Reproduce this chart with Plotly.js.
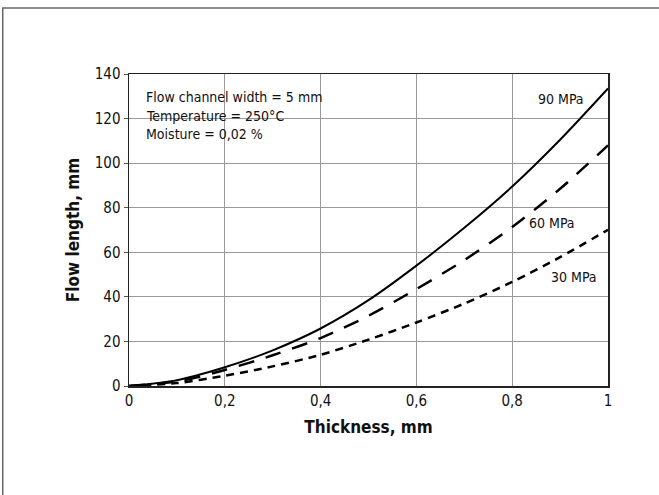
<!DOCTYPE html>
<html>
<head>
<meta charset="utf-8">
<script src="https://cdn.plot.ly/plotly-3.0.1.min.js"></script>
<style>html,body{margin:0;padding:0;background:#fff;}#chart{width:659px;height:495px;}</style>
</head>
<body>
<div id="chart"></div>
<script>
const thickness = [0, 0.1, 0.2, 0.3, 0.4, 0.5, 0.6, 0.7, 0.8, 0.9, 1.0];
const flow90 = [0, 2.6, 8.4, 16, 25.8, 38.5, 54, 71, 89.5, 110.5, 133.5];
const flow60 = [0, 2.0, 7.2, 13.8, 21.5, 31.5, 43.5, 56.5, 71.3, 88.5, 108];
const flow30 = [0, 1.3, 4.6, 8.8, 14, 20.8, 28.5, 37, 46.7, 57.8, 70.1];
const seriesNames = ["90 MPa", "60 MPa", "30 MPa"];
const infoLines = ["Flow channel width = 5 mm", "Temperature = 250°C", "Moisture = 0,02 %"];
const xTicks = [0, 0.2, 0.4, 0.6, 0.8, 1];
const yTicks = [0, 20, 40, 60, 80, 100, 120, 140];

const FONT = "'Liberation Sans Narrow', 'Arial Narrow', 'DejaVu Sans Condensed', sans-serif";

const traces = [
  {x: thickness, y: flow90, name: seriesNames[0], mode: "lines", line: {color: "#000", width: 2, shape: "spline", smoothing: 0.8}},
  {x: thickness, y: flow60, name: seriesNames[1], mode: "lines", line: {color: "#000", width: 2.5, dash: "16px,12px", shape: "spline", smoothing: 0.8}},
  {x: thickness, y: flow30, name: seriesNames[2], mode: "lines", line: {color: "#000", width: 2.5, dash: "8px,6px", shape: "spline", smoothing: 0.8}}
];

const annotations = [
  {x: 0.955, y: 129, xanchor: "right", yanchor: "middle", text: seriesNames[0]},
  {x: 0.883, y: 73, xanchor: "center", yanchor: "middle", text: seriesNames[1]},
  {x: 0.93, y: 48.8, xanchor: "center", yanchor: "middle", text: seriesNames[2]},
  {x: 0.031, y: 129.8, xanchor: "left", yanchor: "middle", text: infoLines[0]},
  {x: 0.031, y: 121.1, xanchor: "left", yanchor: "middle", text: infoLines[1]},
  {x: 0.031, y: 113, xanchor: "left", yanchor: "middle", text: infoLines[2]}
].map(a => Object.assign({xref: "x", yref: "y", showarrow: false, font: {family: FONT, size: 14, color: "#111"}}, a));

const layout = {
  width: 659, height: 495,
  margin: {l: 129.3, r: 50.5, t: 74, b: 109, pad: 0},
  paper_bgcolor: "#fff", plot_bgcolor: "#fff",
  showlegend: false,
  separators: ",.",
  font: {family: FONT, size: 15, color: "#111"},
  xaxis: {
    range: [0, 1], tickvals: xTicks, ticks: "",
    showgrid: true, gridcolor: "#999", gridwidth: 1,
    showline: true, linecolor: "#222", linewidth: 1.5, mirror: true,
    zeroline: false, tickfont: {family: FONT, size: 15, color: "#111"},
    title: {text: "Thickness, mm", font: {family: FONT, size: 17, color: "#111", weight: "bold"}, standoff: 12}
  },
  yaxis: {
    range: [0, 140], tickvals: yTicks, ticks: "outside", ticklen: 4, tickcolor: "#555",
    showgrid: true, gridcolor: "#999", gridwidth: 1,
    showline: true, linecolor: "#222", linewidth: 1.5, mirror: true,
    zeroline: false, tickfont: {family: FONT, size: 15, color: "#111"},
    title: {text: "Flow length, mm", font: {family: FONT, size: 17, color: "#111", weight: "bold"}, standoff: 11}
  },
  annotations: annotations,
  shapes: [
    {type: "rect", xref: "paper", yref: "paper", x0: -0.2636, x1: 1.4, y0: -0.5, y1: 1.2115,
     line: {color: "#666", width: 1.5}, fillcolor: "rgba(0,0,0,0)", layer: "above"}
  ]
};

Plotly.newPlot("chart", traces, layout, {displayModeBar: false, staticPlot: true});
</script>
</body>
</html>
